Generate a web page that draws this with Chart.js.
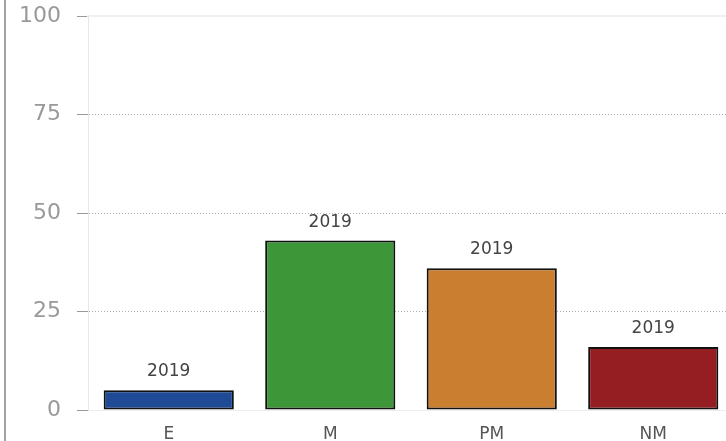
<!DOCTYPE html>
<html lang="en">
    <head>
        <meta charset="UTF-8" />
        <title>2019</title>
        <style>
            body {
                margin: 0;
                background: #fff;
            }
            .wrap {
                position: relative;
                width: 726px;
                height: 441px;
                overflow: hidden;
            }
            .edge {
                position: absolute;
                left: 4px;
                top: 0;
                width: 2px;
                height: 441px;
                background: #a3a3a3;
            }
            .wrap canvas {
                position: absolute;
                left: 0;
                top: 0;
            }
        </style>
    </head>
    <body>
        <div class="wrap">
            <div class="edge"></div>
            <canvas id="chart" width="742" height="441"></canvas>
        </div>

        <script src="https://cdn.jsdelivr.net/npm/chart.js"></script>
        <script>
            const categories = ["E", "M", "PM", "NM"]
            const seriesName = "2019"
            const values = [5, 43, 36, 16]
            const barColors = ["#1f4a96", "#3d9637", "#c97f2f", "#951e23"]
            const yTicks = [0, 25, 50, 75, 100]

            const font = "'DejaVu Sans', Verdana, sans-serif"

            // label "2019" above every bar
            const barLabels = {
                id: "barLabels",
                afterDatasetsDraw(chart) {
                    const ctx = chart.ctx
                    ctx.save()
                    ctx.font = "17px " + font
                    ctx.fillStyle = "#444"
                    ctx.textAlign = "center"
                    ctx.textBaseline = "alphabetic"
                    chart.data.datasets.forEach((ds, i) => {
                        chart.getDatasetMeta(i).data.forEach((bar) => {
                            ctx.fillText(ds.label, bar.x, bar.y - 14)
                        })
                    })
                    ctx.restore()
                },
            }

            new Chart(document.getElementById("chart"), {
                type: "bar",
                data: {
                    labels: categories,
                    datasets: [
                        {
                            label: seriesName,
                            data: values,
                            backgroundColor: barColors,
                            borderColor: "#111",
                            borderWidth: 2,
                            borderSkipped: false,
                            categoryPercentage: 1,
                            barPercentage: 0.806,
                        },
                    ],
                },
                options: {
                    responsive: false,
                    animation: false,
                    devicePixelRatio: 1,
                    layout: { padding: { top: 16, left: 0, right: 8, bottom: 0 } },
                    plugins: {
                        legend: { display: false },
                        tooltip: { enabled: false },
                    },
                    scales: {
                        x: {
                            grid: { display: false },
                            border: { color: "#eeeeee", width: 1 },
                            ticks: {
                                color: "#555",
                                font: { family: font, size: 17 },
                                padding: 6,
                            },
                            afterFit(s) {
                                s.height = 31
                            },
                        },
                        xTop: {
                            position: "top",
                            grid: { display: false },
                            ticks: { display: false },
                            border: { color: "#f0f0f0", width: 2 },
                            afterFit(s) {
                                s.height = 0
                            },
                        },
                        y: {
                            min: 0,
                            max: 100,
                            afterBuildTicks(s) {
                                s.ticks = yTicks.map((v) => ({ value: v }))
                            },
                            grid: {
                                color: (c) =>
                                    c.tick && (c.tick.value === 100 || c.tick.value === 0)
                                        ? "rgba(0,0,0,0)"
                                        : "#b0b0b0",
                                tickColor: "#999",
                                tickLength: 11,
                                lineWidth: 1,
                            },
                            border: { color: "#e8e8e8", width: 1, dash: [1, 2] },
                            ticks: {
                                color: "#999",
                                font: { family: font, size: 22 },
                                padding: 16,
                            },
                            afterFit(s) {
                                s.width = 88
                                s.paddingTop = 0
                                s.paddingBottom = 0
                            },
                        },
                    },
                },
                plugins: [barLabels],
            })
        </script>
    </body>
</html>
